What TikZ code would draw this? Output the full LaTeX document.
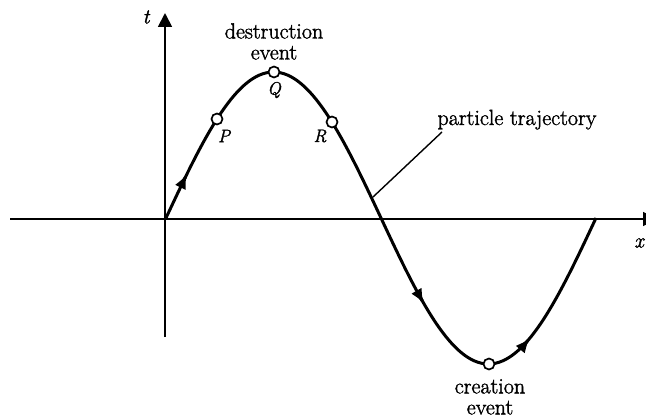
\documentclass[tikz,border=0pt]{standalone}
\usepackage{fontspec}
\setmainfont{Latin Modern Roman}[FakeBold=1.6]
\usetikzlibrary{arrows.meta}
\begin{document}
\begin{tikzpicture}[x=1pt,y=-1pt,
  axis/.style={line width=1.8pt,-{Triangle[length=14pt,width=14pt]}},
  traj/.style={line width=3pt,line join=round},
  dirarrow/.style={line width=3pt,-{Latex[length=15pt,width=12pt]}},
  event/.style={circle,draw,line width=1.7pt,fill=white,inner sep=0pt,minimum size=11pt},
  lbl/.style={font=\fontsize{22}{21}\selectfont,align=center,inner sep=0pt},
  ptl/.style={font=\fontsize{18}{18}\selectfont\itshape,inner sep=0pt},
  leader/.style={line width=1.4pt}]
\useasboundingbox (0,0) rectangle (646,420);
\clip (0,0) rectangle (646,420);
\coordinate (xl) at (10,219);
\coordinate (xr) at (657,219);
\coordinate (yb) at (165,337);
\coordinate (yt) at (165,13);
\draw[axis] (xl) -- (xr);
\draw[axis] (yb) -- (yt);
\node[font=\fontsize{21}{21}\selectfont\itshape] (tl) at (146,17) {t};
\node[font=\fontsize{21}{21}\selectfont\itshape] (xlab) at (639,243) {x};
\draw[traj] plot[domain=0:360,samples=121,smooth] ({166+1.19444*\x},{218-146*sin(\x)});
\draw[dirarrow] plot[domain=14:17.6,samples=4] ({166+1.19444*\x},{218-146*sin(\x)});
\draw[dirarrow] plot[domain=212:216,samples=4] ({166+1.19444*\x},{218-146*sin(\x)});
\draw[dirarrow] plot[domain=300:304.7,samples=4] ({166+1.19444*\x},{218-146*sin(\x)});
\node[event] (P) at (217,119) {};
\node[event] (Q) at (274,72) {};
\node[event] (R) at (332,122) {};
\node[event] (S) at (489,364) {};
\node[ptl] (Pl) at (224,136) {P};
\node[ptl] (Ql) at (274,90) {Q};
\node[ptl] (Rl) at (320,136) {R};
\node[lbl,anchor=north] (dest) at (274,23) {destruction\\event};
\node[lbl,anchor=north] (crea) at (490,379) {creation\\event};
\node[lbl,anchor=base] (trajl) at (517,125) {particle trajectory};
\coordinate (ls) at (442,132);
\coordinate (le) at (373,197);
\draw[leader] (ls) -- (le);
\end{tikzpicture}
\end{document}
